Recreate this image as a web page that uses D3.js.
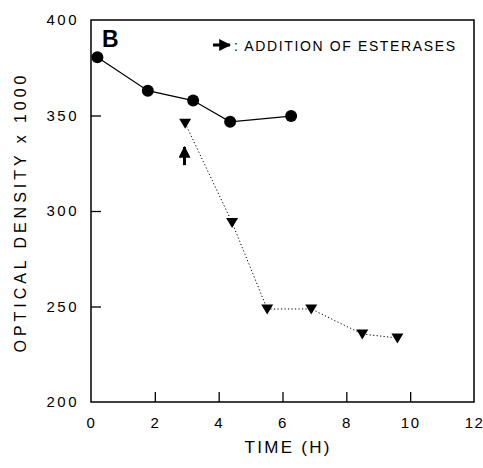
<!doctype HTML>
<html>
<head>
    <script src="https://d3js.org/d3.v7.min.js"></script>
    <style>
        body { margin: 0; background: #fff; }
        text { font-family: "Liberation Sans", Arial, sans-serif; fill: #000; }
    </style>
</head>
<body>
<script>
    // control (no esterases)
    var ctrlTime = [0.2, 1.78, 3.2, 4.36, 6.27];
    var ctrlOD = [380.5, 363, 357.8, 346.7, 349.7];

    // after addition of esterases
    var esterTime = [2.95, 4.42, 5.52, 6.9, 8.5, 9.6];
    var esterOD = [346, 294, 248.7, 248.7, 235.6, 233.5];

    var xTicks = [0, 2, 4, 6, 8, 10, 12];
    var yTicks = [200, 250, 300, 350, 400];

    // arrow marking esterase addition: [time, from, to]
    var additionArrow = [2.93, 324, 333.5];

    var canvasWidth = 483;
    var canvasHeight = 468;
    var margin = {left: 91, top: 20, right: 9, bottom: 66};
    var width = canvasWidth - margin.left - margin.right;
    var height = canvasHeight - margin.top - margin.bottom;

    var svg = d3.select("body").append("svg")
        .attr("width", canvasWidth)
        .attr("height", canvasHeight);

    var defs = svg.append("defs");
    defs.append("marker")
        .attr("id", "head")
        .attr("viewBox", "0 0 10 10")
        .attr("refX", 9).attr("refY", 5)
        .attr("markerWidth", 4).attr("markerHeight", 4)
        .attr("markerUnits", "strokeWidth")
        .attr("orient", "auto")
        .append("path")
        .attr("d", "M0,0 L10,5 L0,10 Z")
        .attr("fill", "#000");

    var xScale = d3.scaleLinear().domain([0, 12]).range([0, width]);
    var yScale = d3.scaleLinear().domain([200, 400]).range([height, 0]);

    var g = svg.append("g")
        .attr("transform", "translate(" + margin.left + "," + margin.top + ")");

    // frame
    g.append("rect")
        .attr("width", width).attr("height", height)
        .attr("fill", "none").attr("stroke", "#000").attr("stroke-width", 1.5);

    // x axis, ticks pointing inside
    var xAxis = g.append("g")
        .attr("transform", "translate(0," + height + ")")
        .call(d3.axisBottom(xScale).tickValues(xTicks).tickSize(-10).tickPadding(15));
    xAxis.select(".domain").remove();
    xAxis.selectAll("line").attr("stroke-width", 1.3)
        .filter(function(d) { return d === 0 || d === 12; }).remove();
    xAxis.selectAll("text")
        .attr("font-size", "15px")
        .attr("letter-spacing", "1.5px")
        .attr("font-family", "Liberation Sans, Arial, sans-serif");

    // y axis, ticks pointing inside
    var yAxis = g.append("g")
        .call(d3.axisLeft(yScale).tickValues(yTicks).tickSize(-10).tickPadding(12));
    yAxis.select(".domain").remove();
    yAxis.selectAll("line").attr("stroke-width", 1.3)
        .filter(function(d) { return d === 200 || d === 400; }).remove();
    yAxis.selectAll("text")
        .attr("font-size", "15px")
        .attr("letter-spacing", "2.5px")
        .attr("font-family", "Liberation Sans, Arial, sans-serif");

    // axis titles
    svg.append("text")
        .attr("x", 287).attr("y", 453)
        .attr("text-anchor", "middle")
        .attr("font-size", "17px")
        .attr("textLength", 85)
        .attr("lengthAdjust", "spacing")
        .text("TIME (H)");

    svg.append("text")
        .attr("transform", "translate(26,214) rotate(-90)")
        .attr("text-anchor", "middle")
        .attr("font-size", "16px")
        .attr("textLength", 277)
        .attr("lengthAdjust", "spacing")
        .text("OPTICAL DENSITY x 1000");

    // panel letter
    g.append("text")
        .attr("x", 11).attr("y", 27)
        .attr("font-size", "23px")
        .attr("font-weight", "bold")
        .text("B");

    // legend
    g.append("line")
        .attr("x1", 122).attr("y1", 25)
        .attr("x2", 139).attr("y2", 25)
        .attr("stroke", "#000").attr("stroke-width", 3)
        .attr("marker-end", "url(#head)");
    g.append("text")
        .attr("x", 143).attr("y", 31)
        .attr("font-size", "14px")
        .attr("textLength", 221)
        .attr("lengthAdjust", "spacing")
        .text(": ADDITION OF ESTERASES");

    var ctrl = ctrlTime.map(function(t, i) { return {t: t, v: ctrlOD[i]}; });
    var ester = esterTime.map(function(t, i) { return {t: t, v: esterOD[i]}; });

    // control series, solid line
    g.append("path")
        .datum(ctrl)
        .attr("fill", "none").attr("stroke", "#000").attr("stroke-width", 1.2)
        .attr("d", d3.line()
            .x(function(d) { return xScale(d.t); })
            .y(function(d) { return yScale(d.v); }));

    // esterase series, dotted line
    g.append("path")
        .datum(ester)
        .attr("fill", "none").attr("stroke", "#000").attr("stroke-width", 1)
        .attr("stroke-dasharray", "1.2,2.3")
        .attr("d", d3.line()
            .x(function(d) { return xScale(d.t); })
            .y(function(d) { return yScale(d.v); }));

    g.selectAll(".ctrl")
        .data(ctrl)
        .enter().append("circle")
        .attr("class", "ctrl")
        .attr("cx", function(d) { return xScale(d.t); })
        .attr("cy", function(d) { return yScale(d.v); })
        .attr("r", 6)
        .attr("fill", "#000");

    g.selectAll(".ester")
        .data(ester)
        .enter().append("path")
        .attr("class", "ester")
        .attr("transform", function(d) {
            return "translate(" + xScale(d.t) + "," + yScale(d.v) + ")";
        })
        .attr("d", "M-6,-4.5 L6,-4.5 L0,5.5 Z")
        .attr("fill", "#000");

    // addition arrow
    g.append("line")
        .attr("x1", xScale(additionArrow[0])).attr("y1", yScale(additionArrow[1]))
        .attr("x2", xScale(additionArrow[0])).attr("y2", yScale(additionArrow[2]))
        .attr("stroke", "#000").attr("stroke-width", 3)
        .attr("marker-end", "url(#head)");
</script>
</body>
</html>
